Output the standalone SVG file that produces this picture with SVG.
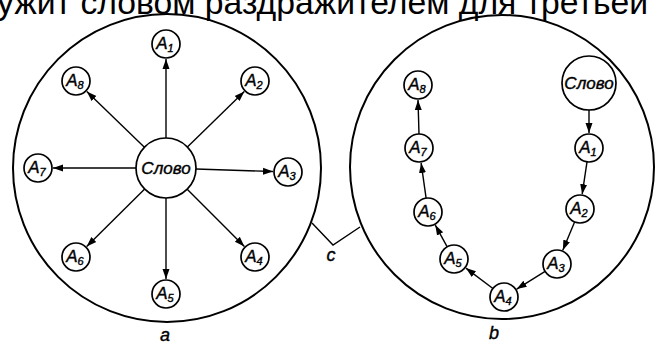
<svg xmlns="http://www.w3.org/2000/svg" width="657" height="345" viewBox="0 0 657 345">
<defs>
<style>
.big{fill:none;stroke:#000;stroke-width:2}
.nd{fill:#fff;stroke:#000;stroke-width:1.7}
.ln{fill:none;stroke:#000;stroke-width:1.4;marker-end:url(#ah)}
.t{font-family:"Liberation Sans",Arial,sans-serif;font-style:italic;font-size:17px;fill:#000;stroke:#000;stroke-width:0.4;text-anchor:middle}
.s{font-size:11px}
.lab{font-family:"Liberation Sans",Arial,sans-serif;font-style:italic;font-size:18px;fill:#000;stroke:#000;stroke-width:0.4;text-anchor:middle}
</style>
<marker id="ah" markerWidth="11" markerHeight="9" refX="10" refY="4.5" orient="auto" markerUnits="userSpaceOnUse">
<path d="M0,1 L10,4.5 L0,8 Z" fill="#000"/>
</marker>
</defs>
<rect width="657" height="345" fill="#fff"/>
<text x="-3" y="14" font-family="Liberation Sans,Arial,sans-serif" font-size="34" textLength="651" lengthAdjust="spacingAndGlyphs">ужит словом раздражителем для третьей</text>

<g id="frames">
<circle class="big" cx="167" cy="168" r="154"/>
<circle class="big" cx="502" cy="167" r="152"/>
<polyline fill="none" stroke="#000" stroke-width="1.4" points="312,223 333,245 360,227"/>
</g>

<g id="connectors">
<line class="ln" x1="166" y1="138" x2="166" y2="59"/>
<line class="ln" x1="187.4" y1="147" x2="244.3" y2="91.5"/>
<line class="ln" x1="196" y1="169" x2="273" y2="171.5"/>
<line class="ln" x1="187.2" y1="189.2" x2="244.4" y2="246.4"/>
<line class="ln" x1="166" y1="198" x2="166" y2="279"/>
<line class="ln" x1="144.7" y1="189.1" x2="86.7" y2="246.5"/>
<line class="ln" x1="136" y1="168" x2="53" y2="168"/>
<line class="ln" x1="144.4" y1="147.2" x2="86.8" y2="91.6"/>

<line class="ln" x1="589" y1="110" x2="589" y2="133"/>
<line class="ln" x1="587" y1="161.8" x2="582.2" y2="194.2"/>
<line class="ln" x1="574.6" y1="221.9" x2="562.8" y2="250.2"/>
<line class="ln" x1="545.1" y1="271.4" x2="516.7" y2="289.1"/>
<line class="ln" x1="492.9" y1="288.5" x2="465.9" y2="268.1"/>
<line class="ln" x1="447.2" y1="246.8" x2="435.3" y2="225.1"/>
<line class="ln" x1="426.1" y1="198.1" x2="421.1" y2="162.9"/>
<line class="ln" x1="419" y1="134" x2="418" y2="100"/>
</g>

<g id="a-slovo"><circle class="nd" cx="166" cy="168" r="30"/><text class="t" x="166" y="174" font-size="18">Слово</text></g>
<g id="a-A1"><circle class="nd" cx="166" cy="44" r="14"/><text class="t" x="165" y="49">A<tspan class="s" dy="3">1</tspan></text></g>
<g id="a-A2"><circle class="nd" cx="255" cy="81" r="14"/><text class="t" x="254" y="86">A<tspan class="s" dy="3">2</tspan></text></g>
<g id="a-A3"><circle class="nd" cx="288" cy="172" r="14"/><text class="t" x="287" y="177">A<tspan class="s" dy="3">3</tspan></text></g>
<g id="a-A4"><circle class="nd" cx="255" cy="257" r="14"/><text class="t" x="254" y="262">A<tspan class="s" dy="3">4</tspan></text></g>
<g id="a-A5"><circle class="nd" cx="166" cy="294" r="14"/><text class="t" x="165" y="299">A<tspan class="s" dy="3">5</tspan></text></g>
<g id="a-A6"><circle class="nd" cx="76" cy="257" r="14"/><text class="t" x="75" y="262">A<tspan class="s" dy="3">6</tspan></text></g>
<g id="a-A7"><circle class="nd" cx="38" cy="168" r="14"/><text class="t" x="37" y="173">A<tspan class="s" dy="3">7</tspan></text></g>
<g id="a-A8"><circle class="nd" cx="76" cy="81" r="14"/><text class="t" x="75" y="86">A<tspan class="s" dy="3">8</tspan></text></g>

<g id="b-slovo"><circle class="nd" cx="589" cy="83" r="27"/><text class="t" x="589" y="89" font-size="17">Слово</text></g>
<g id="b-A1"><circle class="nd" cx="589" cy="148" r="14"/><text class="t" x="588" y="153">A<tspan class="s" dy="3">1</tspan></text></g>
<g id="b-A2"><circle class="nd" cx="580" cy="209" r="14"/><text class="t" x="579" y="214">A<tspan class="s" dy="3">2</tspan></text></g>
<g id="b-A3"><circle class="nd" cx="557" cy="264" r="14"/><text class="t" x="556" y="269">A<tspan class="s" dy="3">3</tspan></text></g>
<g id="b-A4"><circle class="nd" cx="504" cy="297" r="14"/><text class="t" x="503" y="302">A<tspan class="s" dy="3">4</tspan></text></g>
<g id="b-A5"><circle class="nd" cx="454" cy="259" r="14"/><text class="t" x="453" y="264">A<tspan class="s" dy="3">5</tspan></text></g>
<g id="b-A6"><circle class="nd" cx="428" cy="212" r="14"/><text class="t" x="427" y="217">A<tspan class="s" dy="3">6</tspan></text></g>
<g id="b-A7"><circle class="nd" cx="419" cy="148" r="14"/><text class="t" x="418" y="153">A<tspan class="s" dy="3">7</tspan></text></g>
<g id="b-A8"><circle class="nd" cx="418" cy="85" r="14"/><text class="t" x="417" y="90">A<tspan class="s" dy="3">8</tspan></text></g>

<g id="labels">
<text class="lab" x="165" y="341">a</text>
<text class="lab" x="494" y="339">b</text>
<text class="lab" x="331" y="261">c</text>
</g>
</svg>
